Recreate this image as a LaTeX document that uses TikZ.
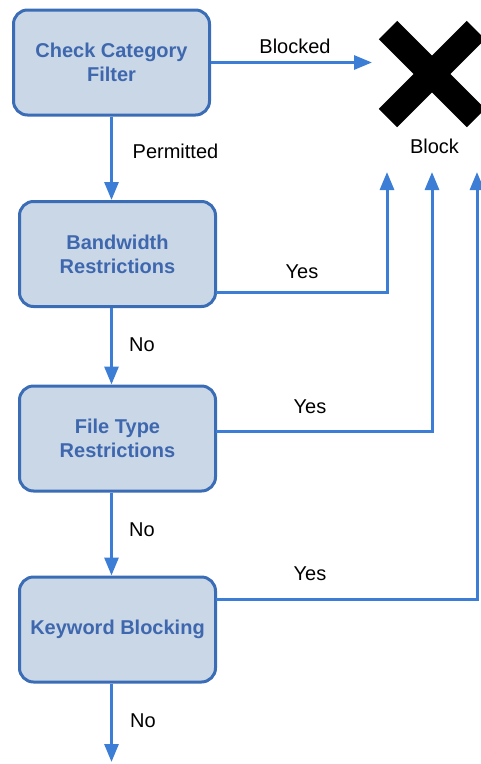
\documentclass[tikz,border=0pt]{standalone}
\usepackage{fontspec}
\setmainfont{Liberation Sans}
\usepackage{xcolor}
\usetikzlibrary{arrows.meta,calc}
\definecolor{boxfill}{HTML}{C9D7E7}
\definecolor{boxedge}{HTML}{3A6DB5}
\definecolor{boxtext}{HTML}{3E67AE}
\definecolor{flowblue}{HTML}{3C7DD6}

\begin{document}
\begin{tikzpicture}[x=1pt,y=-1pt,
    stage/.style={draw=boxedge,fill=boxfill,line width=3pt,rounded corners=14pt,
        minimum width=196pt,minimum height=105pt,align=center,text=boxtext,
        font=\fontsize{20}{24}\selectfont\bfseries},
    flow/.style={draw=flowblue,line width=3pt,-{Triangle[length=18pt,width=14pt]}},
    blockx/.style={draw=black,line width=26pt},
    lbl/.style={font=\fontsize{20}{24}\selectfont,text=black}]
    \useasboundingbox (0,0) rectangle (481,764);

    % Filter stages
    \node[stage] (cat) at (111.5,62.5) {Check Category\\Filter};
    \node[stage] (bw) at (117.5,254) {Bandwidth\\Restrictions};
    \node[stage] (ft) at (117.5,438.5) {File Type\\Restrictions};
    \node[stage] (kw) at (117.5,629.5) {Keyword Blocking};

    % Block target
    \coordinate (xmark) at (432,74);
    \draw[blockx] ($(xmark)+(-44,-44)$) -- ($(xmark)+(44,44)$);
    \draw[blockx] ($(xmark)+(-44,44)$) -- ($(xmark)+(44,-44)$);
    \node[lbl] (blk) at (434.5,146) {Block};
    \coordinate (tipA) at (387,172);
    \coordinate (tipB) at (432,172);
    \coordinate (tipC) at (477,172);
    \coordinate (exit) at (111.5,762);

    % Main path
    \draw[flow] (cat.east) -- ++(161,0);
    \node[lbl] at (295,46) {Blocked};
    \draw[flow] (cat.south) -- (cat.south |- bw.north);
    \node[lbl] at (175.5,151) {Permitted};
    \draw[flow] (cat.south |- bw.south) -- (cat.south |- ft.north);
    \node[lbl] at (142,345) {No};
    \draw[flow] (cat.south |- ft.south) -- (cat.south |- kw.north);
    \node[lbl] at (142,530) {No};
    \draw[flow] (cat.south |- kw.south) -- (exit);
    \node[lbl] at (143,721) {No};

    % Yes branches
    \draw[flow] ($(bw.east)+(-1.5,38)$) -| (tipA);
    \node[lbl] at (302,272) {Yes};
    \draw[flow] ($(ft.east)+(-1.5,-7.5)$) -| (tipB);
    \node[lbl] at (310,407) {Yes};
    \draw[flow] ($(kw.east)+(-1.5,-30.5)$) -| (tipC);
    \node[lbl] at (310,574) {Yes};
\end{tikzpicture}
\end{document}
